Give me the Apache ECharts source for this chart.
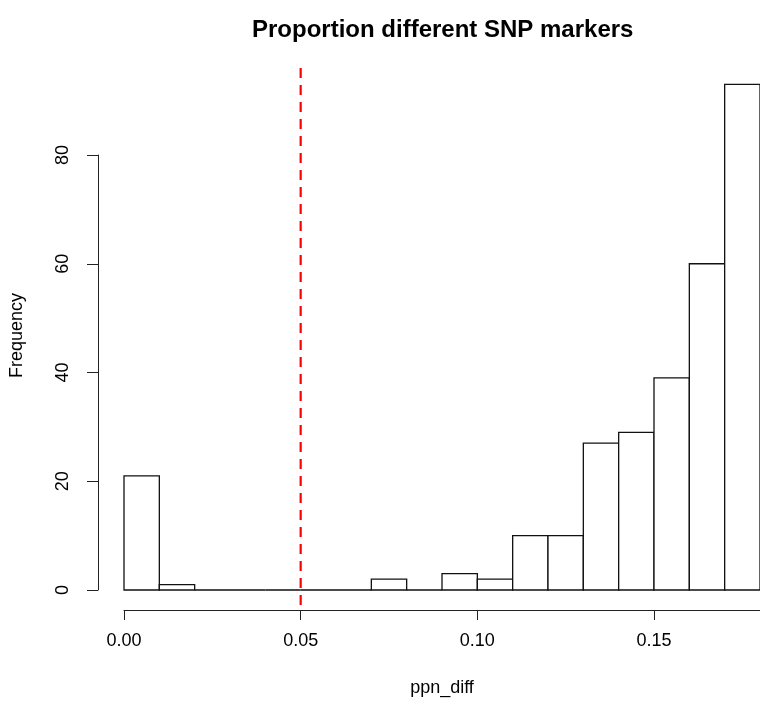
<!DOCTYPE html>
<html>
<head>
<meta charset="utf-8">
<script src="https://cdn.jsdelivr.net/npm/echarts@6/dist/echarts.min.js"></script>
<style>
  html, body { margin: 0; padding: 0; background: #fff; }
  #mybox { width: 760px; height: 702px; }
</style>
</head>
<body>
<div id="mybox"></div>
<script>
// histogram of ppn_diff, bins of width 0.01
var binStarts = [0.00, 0.01, 0.02, 0.03, 0.04, 0.05, 0.06, 0.07, 0.08, 0.09,
                 0.10, 0.11, 0.12, 0.13, 0.14, 0.15, 0.16, 0.17];
var binWidth = 0.01;
var counts = [21, 1, 0, 0, 0, 0, 0, 2, 0, 3, 2, 10, 10, 27, 29, 39, 60, 93];

// cutoff line at 0.05
var cutoff = 0.05;
var cutoffSpan = [96, -4];

var xTicks = [0, 0.05, 0.10, 0.15];
var yTicks = [0, 20, 40, 60, 80];

var histData = binStarts.map(function (b, i) {
    return [b, b + binWidth, counts[i]];
});

var mycharts = echarts.init(document.getElementById('mybox'));

var font = '"Liberation Sans", Arial, sans-serif';

var optionObj = {
    animation: false,
    backgroundColor: '#fff',
    title: {
        text: 'Proportion different SNP markers',
        left: 247,
        top: 13,
        textStyle: { fontFamily: font, fontSize: 24, fontWeight: 'bold', color: '#000' }
    },
    grid: { left: 124, right: -1, top: 155, bottom: 112 },
    xAxis: {
        type: 'value',
        min: 0,
        max: 0.18,
        interval: 0.05,
        offset: 20,
        name: 'ppn_diff',
        nameLocation: 'middle',
        nameGap: 69,
        nameTextStyle: { fontFamily: font, fontSize: 18, color: '#000' },
        axisLine: { show: true, onZero: false, lineStyle: { color: '#222', width: 1 } },
        axisTick: { show: true, length: 10, lineStyle: { color: '#222' } },
        axisLabel: {
            margin: 22,
            showMaxLabel: false,
            fontFamily: font, fontSize: 18, color: '#000',
            formatter: function (v) {
                return xTicks.some(function (t) { return Math.abs(t - v) < 1e-9; }) ? v.toFixed(2) : '';
            }
        },
        splitLine: { show: false }
    },
    yAxis: {
        type: 'value',
        min: 0,
        max: 80,
        interval: 20,
        offset: 26,
        name: 'Frequency',
        nameLocation: 'middle',
        nameGap: 72,
        nameTextStyle: { fontFamily: font, fontSize: 18, color: '#000', padding: [0, 0, 0, 74] },
        axisLine: { show: true, onZero: false, lineStyle: { color: '#222', width: 1 } },
        axisTick: { show: true, length: 11, lineStyle: { color: '#222' } },
        axisLabel: {
            rotate: 90,
            margin: 26,
            fontFamily: font, fontSize: 18, color: '#000',
            formatter: function (v) { return yTicks.indexOf(v) >= 0 ? String(v) : ''; }
        },
        splitLine: { show: false }
    },
    series: [
        {
            type: 'custom',
            clip: false,
            data: histData,
            renderItem: function (params, api) {
                var p0 = api.coord([api.value(0), api.value(2)]);
                var p1 = api.coord([api.value(1), 0]);
                return {
                    type: 'rect',
                    shape: { x: p0[0], y: p0[1], width: p1[0] - p0[0], height: p1[1] - p0[1] },
                    style: { fill: '#fff', stroke: '#111', lineWidth: 1.3 }
                };
            },
            encode: { x: [0, 1], y: 2 },
            z: 2
        },
        {
            type: 'line',
            clip: false,
            symbol: 'none',
            data: [[cutoff, cutoffSpan[0]], [cutoff, cutoffSpan[1]]],
            lineStyle: { color: '#ff0000', width: 2.2, type: [10, 7] },
            z: 5
        }
    ]
};

mycharts.setOption(optionObj);
</script>
</body>
</html>
